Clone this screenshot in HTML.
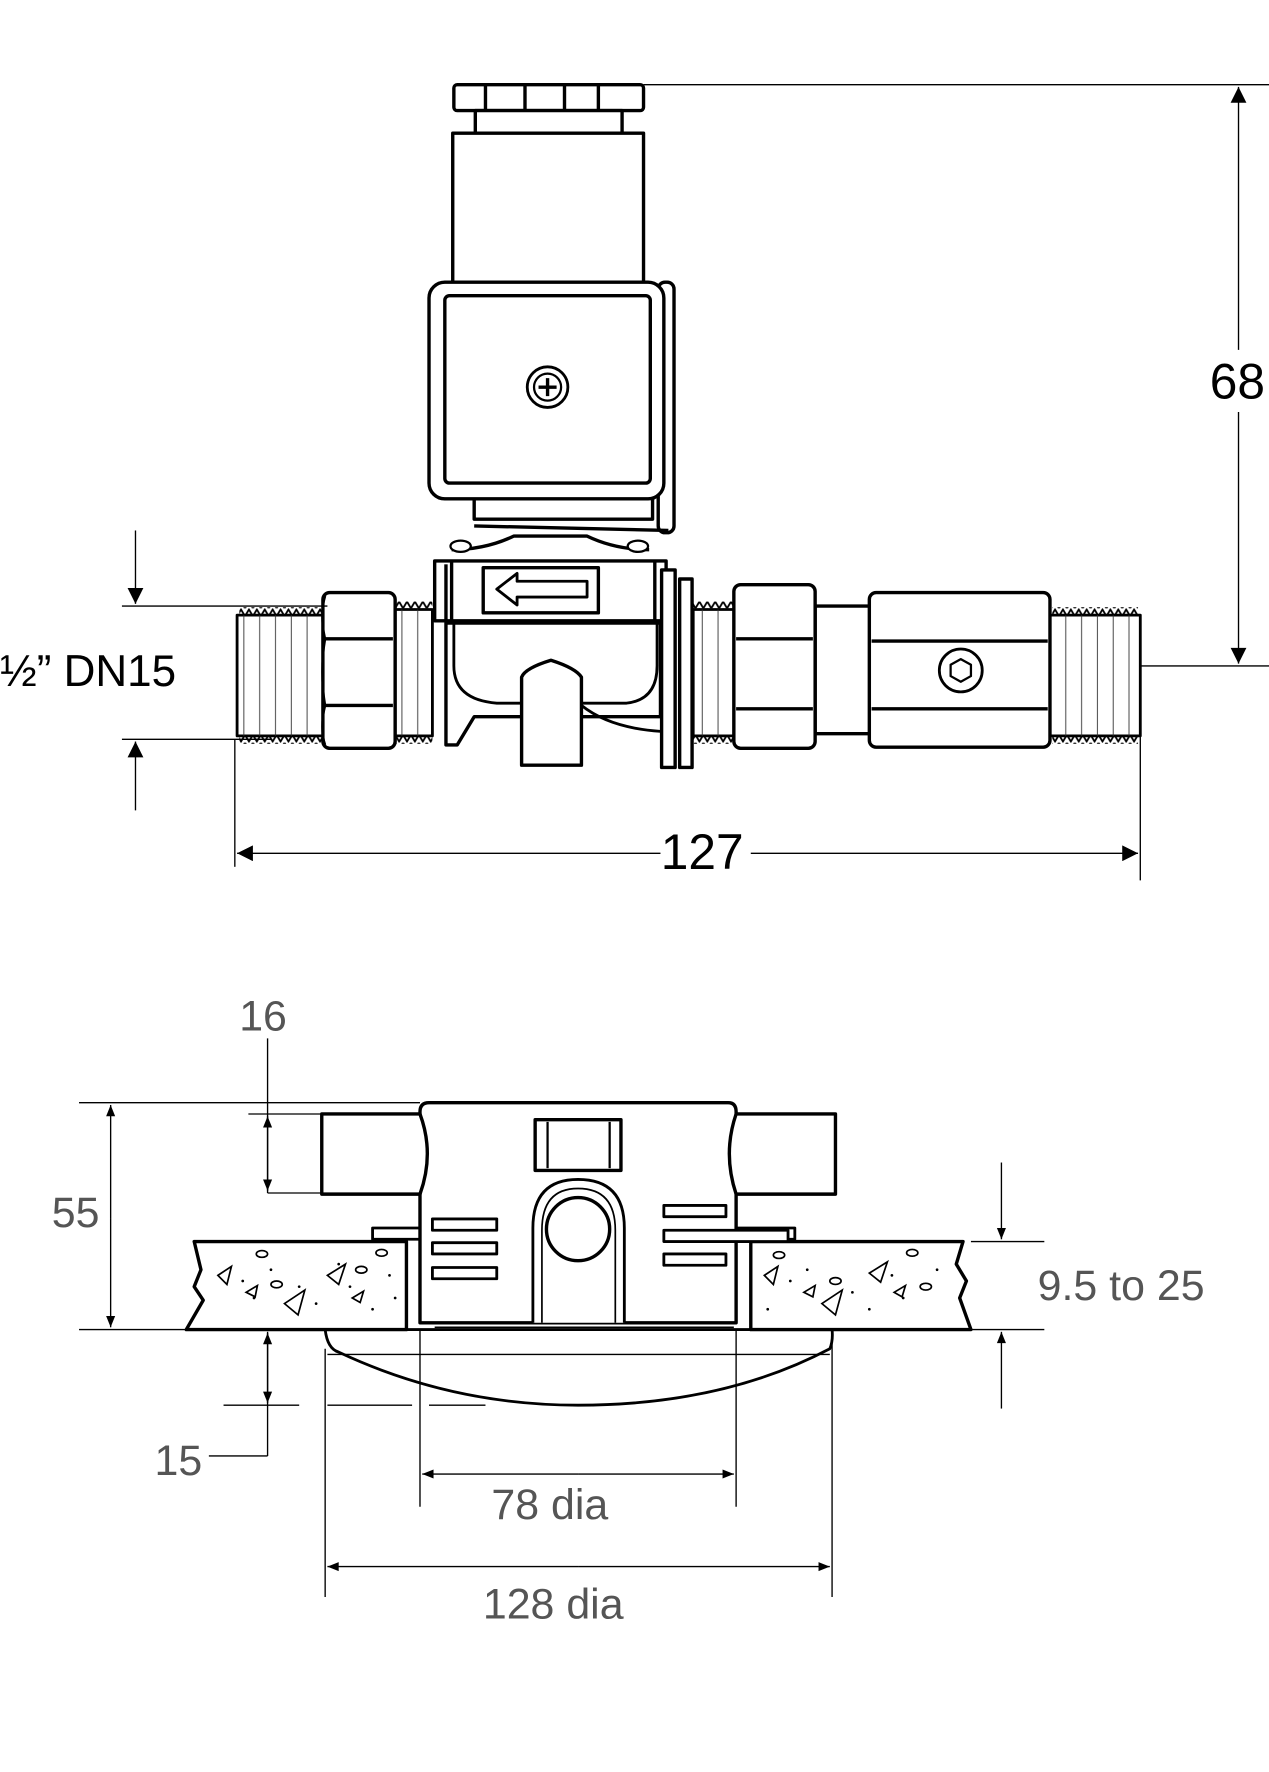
<!DOCTYPE html>
<html><head><meta charset="utf-8"><style>
html,body{margin:0;padding:0;background:#fff}
svg{display:block}
text{font-family:"Liberation Sans",Arial,sans-serif}
</style></head><body>
<svg width="1269" height="1772" viewBox="0 0 1124 1570" preserveAspectRatio="none" xmlns="http://www.w3.org/2000/svg">
<defs>
<pattern id="tt" width="7" height="7" patternUnits="userSpaceOnUse"><polyline points="0,7 3.5,1 7,7" fill="none" stroke="#000" stroke-width="1.6"/></pattern>
<pattern id="tb" width="7" height="7" patternUnits="userSpaceOnUse"><polyline points="0,0 3.5,6 7,0" fill="none" stroke="#000" stroke-width="1.6"/></pattern>
<pattern id="vl" width="14" height="10" patternUnits="userSpaceOnUse"><line x1="6" y1="0" x2="6" y2="10" stroke="#333" stroke-width="0.8"/></pattern>
<marker id="ar" viewBox="0 0 10 10" refX="10" refY="5" markerWidth="22" markerHeight="10" markerUnits="userSpaceOnUse" orient="auto"><path d="M0,1 L10,5 L0,9 Z" fill="#000"/></marker>
<marker id="ar2" viewBox="0 0 10 10" refX="10" refY="5" markerWidth="30" markerHeight="14" markerUnits="userSpaceOnUse" orient="auto"><path d="M0,0 L10,5 L0,10 Z" fill="#000"/></marker>
</defs>
<g fill="#fff" stroke="#000" stroke-width="3" stroke-linejoin="round">
<rect x="402" y="75" width="168" height="23" rx="3"/>
<line x1="430" y1="76" x2="430" y2="97"/><line x1="465" y1="76" x2="465" y2="97"/><line x1="500" y1="76" x2="500" y2="97"/><line x1="530" y1="76" x2="530" y2="97"/>
<rect x="421" y="98" width="130" height="20"/>
<rect x="401" y="118" width="169" height="132"/>
<rect x="583" y="250" width="14" height="222" rx="6"/>
<line x1="420" y1="466" x2="592" y2="470"/>
<rect x="420" y="435" width="158" height="25"/>
<rect x="380" y="250" width="208" height="192" rx="14"/>
<rect x="394" y="262" width="182" height="166" rx="4"/>
<circle cx="485" cy="343" r="18" stroke-width="2.5"/>
<circle cx="485" cy="343" r="12" stroke-width="2"/>
<path d="M485,335 V351 M477,343 H493" stroke-width="3"/>
<path d="M395,552 V660 H405 L420,635 H585 V552 Z"/>
<path d="M402,552 V590 Q402,620 440,623 H555 Q582,620 582,590 V552" fill="none" stroke-width="2.5"/>
<path d="M515,625 Q540,645 585,648" fill="none" stroke-width="2.5"/>
<path d="M462,678 V600 Q465,592 488,585 Q510,592 515,600 V678 Z"/>
<path d="M400,487 Q430,487 455,475 H520 Q545,487 575,487" fill="none"/>
<rect x="385" y="497" width="205" height="53"/>
<line x1="400" y1="497" x2="400" y2="550"/><line x1="580" y1="497" x2="580" y2="550"/>
<line x1="395" y1="550" x2="395" y2="500"/>
<rect x="428" y="503" width="102" height="40"/>
<path d="M440,522 L458,508 V515 H520 V529 H458 V536 Z" stroke-width="2.5"/>
<ellipse cx="408" cy="484" rx="9" ry="5" stroke-width="2"/><ellipse cx="565" cy="484" rx="9" ry="5" stroke-width="2"/>
<rect x="586" y="505" width="12" height="175"/>
<rect x="602" y="513" width="11" height="167"/>
<rect x="210" y="545" width="78" height="107" stroke-width="2.5"/>
<rect x="210" y="545" width="78" height="107" fill="url(#vl)" stroke="none"/>
<rect x="212" y="538" width="76" height="7" fill="url(#tt)" stroke="none"/>
<rect x="212" y="652" width="76" height="7" fill="url(#tb)" stroke="none"/>
<rect x="350" y="540" width="33" height="112" stroke-width="2.5"/>
<rect x="350" y="540" width="33" height="112" fill="url(#vl)" stroke="none"/>
<rect x="350" y="533" width="33" height="7" fill="url(#tt)" stroke="none"/>
<rect x="350" y="652" width="33" height="7" fill="url(#tb)" stroke="none"/>
<rect x="286" y="525" width="64" height="138" rx="6"/>
<path d="M288,566 H348 M288,625 H348"/>
<path d="M288,528 Q283,545 288,566 Q283,595 288,625 Q283,645 288,660" fill="none" stroke-width="2"/>
<rect x="614" y="540" width="36" height="112" stroke-width="2.5"/>
<rect x="614" y="540" width="36" height="112" fill="url(#vl)" stroke="none"/>
<rect x="614" y="533" width="36" height="7" fill="url(#tt)" stroke="none"/>
<rect x="614" y="652" width="36" height="7" fill="url(#tb)" stroke="none"/>
<rect x="722" y="537" width="50" height="113"/>
<rect x="650" y="518" width="72" height="145" rx="6"/>
<path d="M652,566 H720 M652,628 H720"/>
<rect x="930" y="545" width="80" height="107" stroke-width="2.5"/>
<rect x="930" y="545" width="80" height="107" fill="url(#vl)" stroke="none"/>
<rect x="932" y="538" width="76" height="7" fill="url(#tt)" stroke="none"/>
<rect x="932" y="652" width="76" height="7" fill="url(#tb)" stroke="none"/>
<rect x="770" y="525" width="160" height="137" rx="6"/>
<path d="M772,568 H928 M772,628 H928"/>
<circle cx="851" cy="594" r="19" stroke-width="2.5"/>
<polygon points="851,584 860,589 860,599 851,604 842,599 842,589" stroke-width="2"/>
</g>
<g stroke="#000" stroke-width="1.2" fill="none">
<line x1="570" y1="75" x2="1124" y2="75"/>
<line x1="1010" y1="590" x2="1124" y2="590"/>
<line x1="1097" y1="310" x2="1097" y2="77" marker-end="url(#ar2)"/>
<line x1="1097" y1="365" x2="1097" y2="588" marker-end="url(#ar2)"/>
<line x1="208" y1="655" x2="208" y2="768"/>
<line x1="1010" y1="592" x2="1010" y2="780"/>
<line x1="585" y1="756" x2="210" y2="756" marker-end="url(#ar2)"/>
<line x1="665" y1="756" x2="1008" y2="756" marker-end="url(#ar2)"/>
<line x1="108" y1="537" x2="290" y2="537"/>
<line x1="108" y1="655" x2="240" y2="655"/>
<line x1="120" y1="470" x2="120" y2="535" marker-end="url(#ar2)"/>
<line x1="120" y1="718" x2="120" y2="657" marker-end="url(#ar2)"/>
</g>
<text x="1096" y="353" font-size="44" text-anchor="middle">68</text>
<text x="622" y="770" font-size="44" text-anchor="middle">127</text>
<text x="0" y="608" font-size="39">½” DN15</text>

<g fill="#fff" stroke="#000" stroke-width="3" stroke-linejoin="round">
<rect x="330" y="1088" width="42" height="10" stroke-width="2.5"/>
<rect x="652" y="1088" width="52" height="10" stroke-width="2.5"/>
<path d="M288,1178 Q290,1195 300,1198 Q400,1245 512,1245 Q640,1245 735,1195 Q738,1188 737,1178 Z" stroke-width="2.5"/>
<line x1="290" y1="1200" x2="735" y2="1200" stroke-width="1.2"/>
<path d="M172,1100 H360 V1178 H165 L180,1152 L172,1140 L178,1125 Z"/>
<path d="M665,1100 H853 L847,1120 L856,1135 L850,1150 L860,1178 H665 Z"/>
<path d="M372,1172 V985 Q372,977 380,977 H645 Q652,977 652,985 V1172 Z"/>
<line x1="375" y1="1172" x2="650" y2="1172" stroke-width="2"/>
<line x1="385" y1="1176" x2="650" y2="1176" stroke-width="1.5"/>
<path d="M285,987 H372 Q385,1022 372,1058 H285 Z"/>
<path d="M740,987 H652 Q640,1022 652,1058 H740 Z"/>
<rect x="474" y="992" width="76" height="45"/>
<line x1="485" y1="994" x2="485" y2="1035" stroke-width="2"/><line x1="540" y1="994" x2="540" y2="1035" stroke-width="2"/>
<path d="M472,1172 V1088 Q472,1045 512,1045 Q553,1045 553,1088 V1172" stroke-width="2.5"/>
<path d="M480,1172 V1090 Q480,1053 512,1053 Q545,1053 545,1090 V1172" fill="none" stroke-width="1.5"/>
<circle cx="512" cy="1089" r="28"/>
<g stroke-width="2.5">
<rect x="383" y="1080" width="57" height="10"/><rect x="383" y="1101" width="57" height="10"/><rect x="383" y="1123" width="57" height="10"/>
<rect x="588" y="1068" width="55" height="10"/><rect x="588" y="1090" width="110" height="10"/><rect x="588" y="1111" width="55" height="10"/>
</g>
</g>
<g fill="none" stroke="#000" stroke-width="1.5">
<path d="M193,1130 l12,-8 l-4,16 z M218,1145 l10,-6 l-2,10 z M252,1155 l18,-12 l-6,22 z M290,1130 l16,-10 l-6,18 z M312,1150 l10,-6 l-3,10 z"/>
<path d="M677,1130 l12,-8 l-4,16 z M712,1145 l10,-6 l-2,10 z M728,1155 l18,-12 l-6,22 z M770,1128 l16,-10 l-6,18 z M792,1145 l10,-6 l-3,10 z"/>
<ellipse cx="232" cy="1111" rx="5" ry="3"/><ellipse cx="338" cy="1110" rx="5" ry="3"/><ellipse cx="245" cy="1138" rx="5" ry="3"/><ellipse cx="320" cy="1125" rx="5" ry="3"/>
<ellipse cx="690" cy="1112" rx="5" ry="3"/><ellipse cx="808" cy="1110" rx="5" ry="3"/><ellipse cx="740" cy="1135" rx="5" ry="3"/><ellipse cx="820" cy="1140" rx="5" ry="3"/>
</g>
<g fill="#000">
<circle cx="215" cy="1135" r="1.2"/><circle cx="225" cy="1150" r="1.2"/><circle cx="240" cy="1125" r="1.2"/><circle cx="265" cy="1140" r="1.2"/><circle cx="280" cy="1155" r="1.2"/><circle cx="310" cy="1140" r="1.2"/><circle cx="330" cy="1160" r="1.2"/><circle cx="345" cy="1130" r="1.2"/><circle cx="350" cy="1150" r="1.2"/><circle cx="300" cy="1120" r="1.2"/>
<circle cx="700" cy="1135" r="1.2"/><circle cx="715" cy="1125" r="1.2"/><circle cx="755" cy="1145" r="1.2"/><circle cx="770" cy="1160" r="1.2"/><circle cx="790" cy="1130" r="1.2"/><circle cx="800" cy="1150" r="1.2"/><circle cx="830" cy="1125" r="1.2"/><circle cx="680" cy="1160" r="1.2"/>
</g>
<g stroke="#000" stroke-width="1.2" fill="none">
<line x1="70" y1="977" x2="372" y2="977"/>
<line x1="70" y1="1178" x2="170" y2="1178"/>
<line x1="98" y1="1080" x2="98" y2="979" marker-end="url(#ar)"/>
<line x1="98" y1="1080" x2="98" y2="1176" marker-end="url(#ar)"/>
<line x1="237" y1="920" x2="237" y2="1057"/>
<line x1="237" y1="1020" x2="237" y2="989" marker-end="url(#ar)"/>
<line x1="237" y1="1020" x2="237" y2="1055" marker-end="url(#ar)"/>
<line x1="220" y1="987" x2="285" y2="987"/>
<line x1="237" y1="1057" x2="285" y2="1057"/>
<line x1="860" y1="1100" x2="925" y2="1100"/>
<line x1="860" y1="1178" x2="925" y2="1178"/>
<line x1="887" y1="1030" x2="887" y2="1098" marker-end="url(#ar)"/>
<line x1="887" y1="1248" x2="887" y2="1180" marker-end="url(#ar)"/>
<line x1="237" y1="1290" x2="237" y2="1180"/>
<line x1="237" y1="1212" x2="237" y2="1181" marker-end="url(#ar)"/>
<line x1="237" y1="1212" x2="237" y2="1243" marker-end="url(#ar)"/>
<line x1="185" y1="1290" x2="237" y2="1290"/>
<path d="M198,1245 H265 M290,1245 H365 M380,1245 H430"/>
<line x1="372" y1="1178" x2="372" y2="1335"/>
<line x1="652" y1="1178" x2="652" y2="1335"/>
<line x1="512" y1="1306" x2="374" y2="1306" marker-end="url(#ar)"/>
<line x1="512" y1="1306" x2="650" y2="1306" marker-end="url(#ar)"/>
<line x1="288" y1="1195" x2="288" y2="1415"/>
<line x1="737" y1="1190" x2="737" y2="1415"/>
<line x1="512" y1="1388" x2="290" y2="1388" marker-end="url(#ar)"/>
<line x1="512" y1="1388" x2="735" y2="1388" marker-end="url(#ar)"/>
</g>
<g fill="#555" font-size="38">
<text x="233" y="913" text-anchor="middle">16</text>
<text x="67" y="1087" text-anchor="middle">55</text>
<text x="993" y="1152" text-anchor="middle">9.5  to 25</text>
<text x="158" y="1307" text-anchor="middle">15</text>
<text x="487" y="1346" text-anchor="middle">78 dia</text>
<text x="490" y="1434" text-anchor="middle">128 dia</text>
</g>
</svg>
</body></html>
